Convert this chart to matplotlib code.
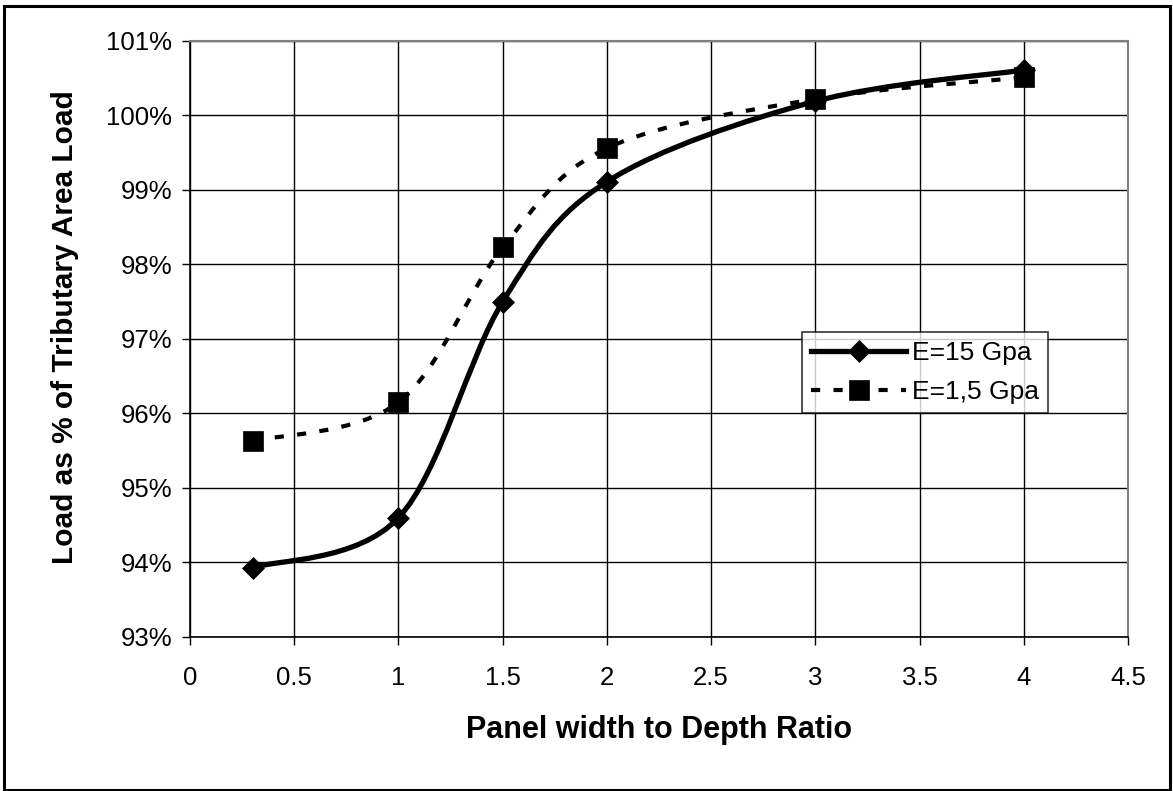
import matplotlib.pyplot as plt
from matplotlib.lines import Line2D
from matplotlib.patches import PathPatch, Rectangle
from matplotlib.path import Path

plt.rcParams["font.family"] = ["Liberation Sans", "DejaVu Sans"]

ratio = [0.3, 1.0, 1.5, 2.0, 3.0, 4.0]
load_e15 = [93.93, 94.60, 97.50, 99.11, 100.19, 100.61]
load_e1_5 = [95.63, 96.15, 98.23, 99.56, 100.22, 100.51]

x_ticks = [0, 0.5, 1, 1.5, 2, 2.5, 3, 3.5, 4, 4.5]
y_ticks = [93, 94, 95, 96, 97, 98, 99, 100, 101]


def smooth_path(xs, ys):
    # Excel-style smoothed line: Catmull-Rom segments as cubic Beziers
    pts = list(zip(xs, ys))
    n = len(pts)
    verts = [pts[0]]
    codes = [Path.MOVETO]
    for i in range(n - 1):
        p0 = pts[i - 1] if i > 0 else pts[i]
        p1 = pts[i]
        p2 = pts[i + 1]
        p3 = pts[i + 2] if i + 2 < n else pts[i + 1]
        c1 = (p1[0] + (p2[0] - p0[0]) / 6, p1[1] + (p2[1] - p0[1]) / 6)
        c2 = (p2[0] - (p3[0] - p1[0]) / 6, p2[1] - (p3[1] - p1[1]) / 6)
        verts += [c1, c2, p2]
        codes += [Path.CURVE4] * 3
    return Path(verts, codes)


fig = plt.figure(figsize=(11.73, 7.91), dpi=100)
ax = fig.add_axes([0.162, 0.1947, 0.7996, 0.7535])

dash = (0, (2.2, 3.2))

ax.add_patch(PathPatch(smooth_path(ratio, load_e15), fill=False, edgecolor="black",
                       lw=3.8, capstyle="butt", joinstyle="round", zorder=3))
ax.add_patch(PathPatch(smooth_path(ratio, load_e1_5), fill=False, edgecolor="black",
                       lw=3.0, linestyle=dash, capstyle="butt", zorder=3))
ax.plot(ratio, load_e15, linestyle="none", marker="D", ms=11.5, mew=0.5, color="black", zorder=4)
ax.plot(ratio, load_e1_5, linestyle="none", marker="s", ms=14, mew=0.5, color="black", zorder=4)

ax.set_xlim(0, 4.5)
ax.set_ylim(93, 101)
ax.set_xticks(x_ticks)
ax.set_xticklabels([f"{v:g}" for v in x_ticks])
ax.set_yticks(y_ticks)
ax.set_yticklabels([f"{v}%" for v in y_ticks])
ax.tick_params(direction="out", length=6, width=1, labelsize=18.5, color="black")
ax.tick_params(axis="x", pad=15)
ax.tick_params(axis="y", pad=7)
ax.grid(True, color="black", lw=1)
ax.set_axisbelow(True)
for side in ("left", "bottom"):
    ax.spines[side].set_color("black")
    ax.spines[side].set_linewidth(1.2)
for side in ("top", "right"):
    ax.spines[side].set_color("#808080")
    ax.spines[side].set_linewidth(1.5)

ax.set_xlabel("Panel width to Depth Ratio", fontsize=22, fontweight="bold", labelpad=18)
ax.set_ylabel("Load as % of Tributary Area Load", fontsize=21.5, fontweight="bold", labelpad=20)
ax.yaxis.set_label_coords(-0.118, 0.52)

handles = [
    Line2D([], [], color="black", lw=3.8, marker="D", ms=11.5, mew=0.5),
    Line2D([], [], color="black", lw=3.0, linestyle=dash, marker="s", ms=14, mew=0.5),
]
leg = ax.legend(handles, ["E=15 Gpa", "E=1,5 Gpa"], loc="upper left",
                bbox_to_anchor=(0.6525, 0.5117), fontsize=19, frameon=True, fancybox=False,
                edgecolor="black", handlelength=3.6, handletextpad=0.2,
                borderpad=0.35, labelspacing=0.55, borderaxespad=0)
leg.get_frame().set_linewidth(1.2)

fig.add_artist(Rectangle((4 / 1173, 1 / 791), 1166 / 1173, 784 / 791, transform=fig.transFigure,
                         fill=False, edgecolor="black", lw=2.2))

fig.savefig("out.png", dpi=100)
